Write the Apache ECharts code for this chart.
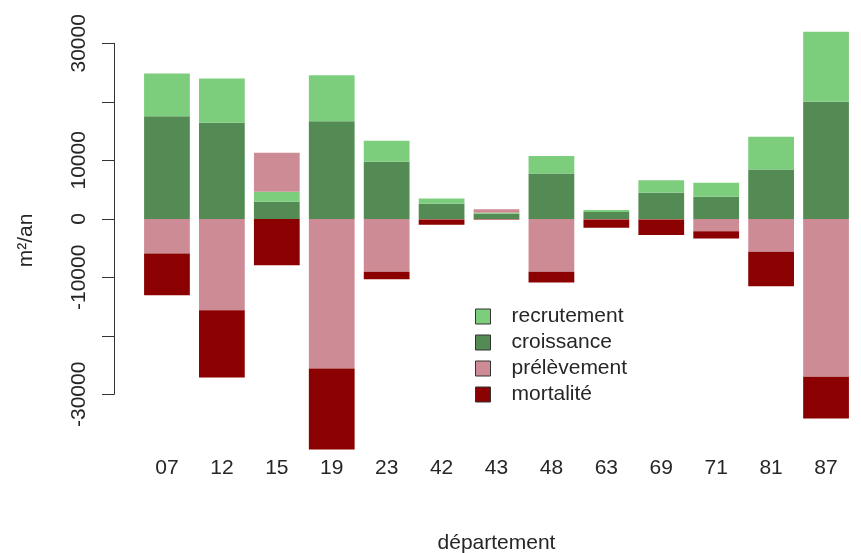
<!DOCTYPE html>
<html>
<head>
<meta charset="utf-8">
<script src="https://cdn.jsdelivr.net/npm/echarts@6/dist/echarts.min.js"></script>
<style>
  html, body { margin: 0; padding: 0; background: #fff; }
  #chart { width: 861px; height: 553px; }
</style>
</head>
<body>
<div id="chart"></div>
<script>
// Flux annuels de surface terrière par département (m²/an)
const departements = ['07', '12', '15', '19', '23', '42', '43', '48', '63', '69', '71', '81', '87'];
const croissance   = [17570, 16430, 2920, 16700, 9760, 2600, 900, 7780, 1200, 4460, 3780, 8460, 20020];
const recrutement  = [7300, 7590, 1710, 7840, 3590, 900, 150, 2960, 350, 2170, 2390, 5570, 11960];
const prelevement  = [-5900, -15590, 6670, -25560, -9040, -100, 600, -9040, -100, -100, -2090, -5620, -26990];
const mortalite    = [-7130, -11500, -7900, -13840, -1250, -900, -100, -1810, -1400, -2650, -1250, -5870, -7110];

// Graduations de l'axe vertical ; les libellés vides se chevaucheraient
const yTicks       = [-30000, -20000, -10000, 0, 10000, 20000, 30000];
const yTickLabels  = ['-30000', '', '-10000', '0', '10000', '', '30000'];

const FONT = "'Liberation Sans', Arial, Helvetica, sans-serif";
const TEXT = '#262626';
const FS = 21;

const chart = echarts.init(document.getElementById('chart'), null, { renderer: 'canvas' });

const barSeries = (name, data, color) => ({
  name,
  type: 'bar',
  stack: 'flux',
  data,
  xAxisIndex: 0,
  yAxisIndex: 0,
  barCategoryGap: '16.7%',
  itemStyle: { color },
  emphasis: { disabled: true },
  clip: false
});

chart.setOption({
  animation: false,
  backgroundColor: '#ffffff',
  textStyle: { fontFamily: FONT },
  grid: [
    // zone des barres
    { left: 139.5, right: 7.5, top: 20, height: 433, outerBoundsMode: 'none', containLabel: false },
    // axe vertical gradué de -30000 à 30000
    { left: 114, width: 1, top: 43.3, height: 351, outerBoundsMode: 'none', containLabel: false }
  ],
  xAxis: [
    {
      gridIndex: 0,
      type: 'category',
      data: departements,
      axisLine: { show: false },
      axisTick: { show: false },
      axisLabel: { color: TEXT, fontSize: FS, fontFamily: FONT, margin: 5 },
      name: 'département',
      nameLocation: 'middle',
      nameGap: 80,
      nameTextStyle: { color: TEXT, fontSize: FS, fontFamily: FONT }
    },
    { gridIndex: 1, type: 'value', show: false }
  ],
  yAxis: [
    {
      gridIndex: 0,
      type: 'value',
      min: -40000,
      max: 34000,
      axisLine: { show: false },
      axisTick: { show: false },
      axisLabel: { show: false },
      splitLine: { show: false },
      name: 'm²/an',
      nameLocation: 'middle',
      nameGap: 103,
      nameRotate: 90,
      nameTextStyle: { color: TEXT, fontSize: FS, fontFamily: FONT, padding: [0, 8, 0, 0] }
    },
    {
      gridIndex: 1,
      type: 'value',
      min: yTicks[0],
      max: yTicks[yTicks.length - 1],
      interval: yTicks[1] - yTicks[0],
      axisLine: { show: true, lineStyle: { color: '#333', width: 1 } },
      axisTick: { show: true, length: 12, lineStyle: { color: '#333', width: 1 } },
      splitLine: { show: false },
      axisLabel: {
        rotate: 90,
        margin: 24,
        color: TEXT,
        fontSize: FS,
        fontFamily: FONT,
        formatter: (v) => yTickLabels[yTicks.indexOf(v)] ?? ''
      }
    }
  ],
  legend: {
    data: ['recrutement', 'croissance', 'prélèvement', 'mortalité'],
    orient: 'vertical',
    left: 470,
    top: 301,
    itemWidth: 15,
    itemHeight: 15,
    itemGap: 5,
    icon: 'rect',
    itemStyle: { borderColor: '#333', borderWidth: 1 },
    textStyle: { color: TEXT, fontSize: FS, fontFamily: FONT, lineHeight: 21, padding: [0, 0, 0, 16] },
    selectedMode: false
  },
  series: [
    barSeries('croissance', croissance, '#548B54'),
    barSeries('recrutement', recrutement, '#7CCD7C'),
    barSeries('prélèvement', prelevement, '#CD8C95'),
    barSeries('mortalité', mortalite, '#8B0000')
  ]
});
</script>
</body>
</html>
